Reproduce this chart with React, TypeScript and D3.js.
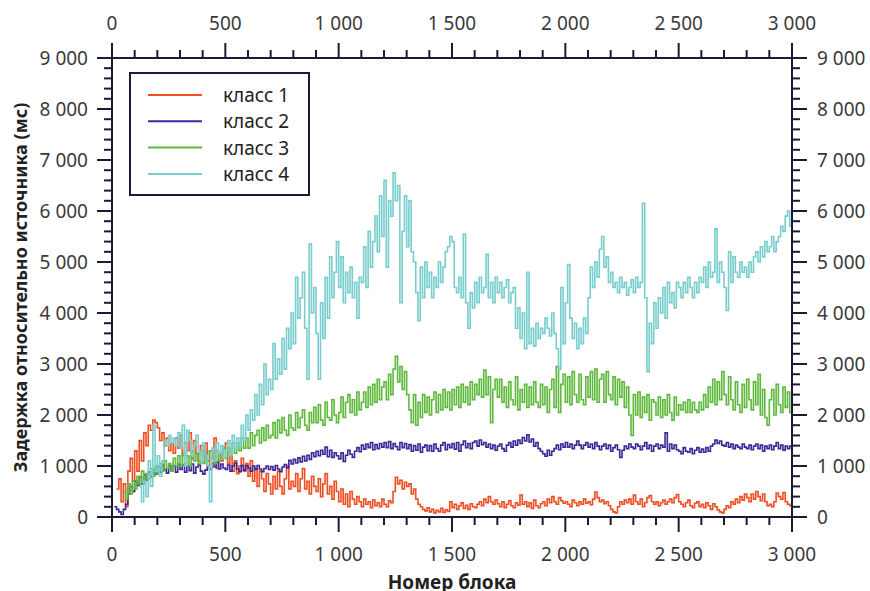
import React from "react";
import * as d3 from "d3";

// Block number step between samples
const X_STEP = 10;

const class1: (number | null)[] = [
  null, null, 550, 750, 300, 650, 200, 900, 1150, 700,
  1300, 900, 1500, 1100, 1650, 1400, 1800, 1700, 1900, 1850,
  1750, 1500, 1650, 1400, 1550, 1300, 1450, 1250, 1550, 1350,
  1600, 1200, 1450, 1300, 1650, 1150, 1500, 1250, 1100, 1400,
  1200, 1450, 1000, 1300, 1150, 1550, 950, 1250, 1100, 1350,
  1450, 1050, 1200, 900, 1100, 850, 1000, 1150, 900, 1050,
  800, 1100, 700, 950, 600, 900, 750, 500, 850, 650,
  450, 800, 550, 900, 600, 450, 750, 1000, 550, 700,
  600, 850, 500, 750, 950, 550, 700, 450, 800, 600,
  500, 750, 400, 650, 850, 450, 600, 350, 700, 500,
  300, 550, 250, 450, 200, 500, 350, 250, 400, 300,
  200, 350, 250, 300, 180, 330, 220, 280, 200, 350,
  250, 200, 320, 280, 500, 780, 650, 720, 550, 680,
  600, 650, 450, 550, 350, 250, 200, 150, 120, 180,
  100, 150, 80, 130, 100, 170, 90, 140, 110, 300,
  180, 250, 150, 220, 280, 170, 230, 150, 260, 200,
  180, 250, 300, 220, 350, 280, 400, 300, 250, 330,
  260, 200, 300, 180, 250, 320, 220, 180, 280, 230,
  430, 250, 300, 200, 280, 170, 330, 220, 180, 260,
  300, 220, 350, 280, 400, 300, 250, 380, 320, 270,
  300, 250, 200, 330, 280, 220, 300, 250, 350, 270,
  300, 240, 350, 490, 380, 300, 330, 260, 300, 220,
  150, 100, 80, 200, 300, 250, 330, 280, 350, 250,
  430, 300, 250, 350, 200, 280, 380, 420, 300, 250,
  300, 220, 280, 330, 250, 300, 350, 280, 380, 440,
  300, 250, 200, 280, 330, 220, 180, 270, 300, 200,
  250, 180, 280, 220, 150, 260, 200, 140, 100, 80,
  150, 220, 180, 300, 250, 350, 280, 400, 330, 450,
  380, 300, 450, 350, 500, 400, 320, 450, 300, 220,
  250, 200, 300, 470, 400, 350, 480, 300, 250, 220,
  250,
];

const class2: (number | null)[] = [
  null, 200, 150, 100, 50, 150, 250, 450, 600, 500,
  700, 620, 780, 650, 830, 720, 880, 790, 930, 840,
  980, 880, 1020, 930, 860, 1010, 900, 1000, 880, 1040,
  930, 1020, 880, 1000, 910, 1040, 860, 980, 1020, 900,
  840, 920, 990, 930, 1060, 980, 1080, 940, 1040, 960,
  930, 1020, 900, 1000, 1060, 940, 890, 1010, 920, 1010,
  960, 900, 1000, 930, 1010, 940, 890, 950, 1000, 930,
  990, 920, 1010, 940, 890, 980, 1030, 960, 1110, 1040,
  1130, 1060, 1160, 1080, 1190, 1100, 1210, 1130, 1260, 1180,
  1290, 1200, 1310, 1230, 1370, 1180, 1310, 1170, 1260, 1200,
  1140, 1260, 1090, 1210, 1310, 1230, 1170, 1290, 1360, 1280,
  1410, 1330, 1430, 1360, 1460, 1320, 1420, 1340, 1440, 1370,
  1460, 1360, 1480, 1340, 1440, 1380, 1320, 1460, 1360, 1440,
  1340, 1420, 1290, 1400, 1310, 1430, 1270, 1370, 1410, 1300,
  1400, 1290, 1430, 1340, 1290, 1410, 1460, 1320, 1420, 1360,
  1440, 1330, 1460, 1290, 1420, 1490, 1360, 1440, 1340, 1460,
  1490, 1390, 1510, 1420, 1460, 1370, 1430, 1340, 1410, 1310,
  1390, 1430, 1340, 1290, 1410, 1460, 1370, 1490, 1410, 1510,
  1440, 1560, 1490, 1610, 1470, 1530, 1390, 1460, 1340, 1290,
  1240, 1190, 1310, 1210, 1290, 1340, 1410, 1320, 1430, 1370,
  1460, 1370, 1430, 1340, 1410, 1490, 1410, 1340, 1410, 1460,
  1370, 1430, 1340, 1460, 1390, 1320, 1390, 1430, 1340, 1410,
  1290, 1360, 1410, 1320, 1170, 1310, 1390, 1340, 1430, 1370,
  1340, 1430, 1390, 1320, 1390, 1460, 1340, 1410, 1290, 1390,
  1430, 1340, 1410, 1370, 1650, 1290, 1430, 1340, 1410, 1320,
  1290, 1240, 1360, 1290, 1270, 1340, 1240, 1310, 1360, 1270,
  1330, 1270, 1360, 1290, 1390, 1430, 1510, 1440, 1490, 1410,
  1390, 1460, 1370, 1430, 1340, 1410, 1370, 1340, 1430, 1370,
  1340, 1410, 1320, 1390, 1430, 1340, 1410, 1290, 1390, 1340,
  1410, 1320, 1390, 1460, 1340, 1410, 1310, 1390, 1340, 1390,
  1350,
];

const class3: (number | null)[] = [
  null, null, null, null, null, 500, 350, 650, 450, 700,
  550, 800, 650, 900, 700, 850, 750, 950, 800, 1000,
  850, 1050, 900, 1100, 950, 1050, 900, 1150, 1000, 1200,
  1000, 1250, 1050, 1200, 1000, 1300, 1100, 1250, 1050, 1300,
  1050, 1250, 1100, 1300, 1150, 1050, 1300, 1100, 1250, 1350,
  1150, 1350, 1200, 1450, 1250, 1450, 1300, 1550, 1350, 1550,
  1350, 1650, 1400, 1600, 1700, 1450, 1750, 1500, 1800, 1550,
  1600, 1850, 1550, 1900, 1650, 1950, 1700, 1600, 2000, 1750,
  1700, 2050, 1750, 1950, 2100, 1800, 1700, 2050, 1850, 2150,
  1850, 2200, 1900, 1800, 2250, 1950, 1900, 2300, 2000, 1850,
  2050, 2350, 1950, 2250, 2400, 2050, 2300, 2000, 2450, 2100,
  2250, 2450, 2150, 2550, 2200, 2600, 2250, 2700, 2300, 2550,
  2650, 2300, 2800, 2400, 2900, 3150, 2650, 2950, 2500, 2850,
  2400, 2100, 1850, 2400, 1800, 2250, 1950, 2400, 2050, 2350,
  2000, 2300, 2450, 2050, 2400, 2100, 2500, 2150, 2450, 2100,
  2500, 2200, 2550, 2150, 2600, 2250, 2550, 2200, 2650, 2300,
  2600, 2400, 2700, 2350, 2880, 2400, 2750, 1850, 2500, 2700,
  2350, 2700, 2250, 2550, 2150, 2650, 2300, 2200, 2750, 2100,
  2500, 2250, 2600, 2150, 2550, 2200, 2650, 2250, 2150, 2600,
  2200, 2550, 2050, 2500, 2700, 2150, 2950, 2050, 2600, 2800,
  2250, 2750, 2200, 2850, 2400, 2250, 2800, 2300, 2200, 2750,
  2350, 2850, 2300, 2900, 2250, 2700, 2800, 2250, 2850, 2400,
  2300, 2750, 2200, 2700, 2350, 2650, 2150, 2550, 2000, 1600,
  2400, 2000, 2450, 1950, 2350, 2050, 2400, 1900, 2300, 2250,
  2000, 2350, 1950, 2300, 2000, 2400, 2050, 1900, 2350, 2000,
  2200, 2100, 2250, 2050, 2300, 2050, 2250, 2100, 2050, 2250,
  2100, 2400, 2150, 2550, 2250, 2700, 2200, 2650, 2300, 2850,
  2400, 2200, 2750, 2300, 2100, 2650, 2200, 2050, 2600, 2150,
  2700, 2300, 2100, 2650, 2200, 2800, 2000, 2500, 1950, 1800,
  2300, 2500, 2000, 2600, 2200, 2050, 2550, 2150, 2450, 2050,
  2250,
];

const class4: (number | null)[] = [
  null, null, null, null, null, null, null, null, null, null,
  null, null, 600, 300, 700, 400, 1100, 600, 1800, 900,
  1200, 800, 1100, 1500, 1400, 1600, 1450, 1550, 1400, 1650,
  1350, 1800, 1000, 1700, 1500, 1200, 1400, 1600, 1300, 1100,
  1450, 1200, 1000, 300, 1350, 1100, 1450, 1250, 1400, 1150,
  1300, 1500, 1200, 1600, 1350, 1550, 1400, 1800, 1500, 2000,
  1700, 2100, 1900, 2400, 2000, 2600, 2200, 3000, 2400, 2700,
  2500, 3400, 2700, 3100, 2800, 3500, 2900, 3700, 3300, 4000,
  3400, 4700, 3900, 4300, 4800, 3700, 2700, 5350, 4000, 4500,
  3600, 2700, 4200, 3500, 4700, 3900, 5100, 4300, 4800, 5400,
  4500, 5100, 4200, 4800, 4400, 4900, 4300, 4600, 3900, 4700,
  4600, 5300, 4500, 5600, 4900, 5400, 5900, 5200, 6300, 5500,
  6600, 4900, 6200, 5900, 6750, 6200, 6500, 4200, 5600, 6300,
  5300, 6200, 5200, 5000, 4400, 3850, 4900, 4300, 5000, 4500,
  4800, 4300, 4700, 4500, 5000, 4600, 4900, 5200, 5300, 5500,
  5400, 4500, 4400, 4700, 4300, 5550, 4200, 3700, 4400, 4100,
  4600, 4200, 4700, 4400, 4500, 5150, 4300, 4600, 4200, 4700,
  4400, 4600, 4300, 4500, 4650, 4200, 4400, 4500, 3700, 4100,
  3500, 4000, 3300, 4800, 3400, 3700, 3350, 3800, 3500, 3700,
  3600, 3900, 3700, 3550, 4000, 3600, 3300, 2900, 4500, 3400,
  4200, 4950, 3900, 3500, 3800, 3300, 3700, 3400, 3900, 3600,
  4300, 4900, 4500, 5000, 4700, 5250, 5500, 4900, 5100, 4600,
  4800, 4500, 4600, 4400, 4700, 4500, 4600, 4350, 4500, 4650,
  4400, 4700, 4500, 4600, 6150, 4300, 2850, 3800, 3400, 4200,
  3700, 4300, 4000, 4500, 3900, 4600, 4200, 4400, 4100, 4600,
  4500, 4300, 4600, 4400, 4700, 4500, 4300, 4600, 4400, 4700,
  4600, 4900, 4500, 5000, 4700, 4800, 5650, 4600, 5000, 4800,
  4500, 4050, 5200, 4600, 5100, 4800, 4700, 5000, 4800, 4900,
  4700, 5000, 4800, 5100, 5200, 5000, 5300, 5100, 5400, 5200,
  5300, 5500, 5200, 5400, 5500, 5700, 5600, 5900, 6000, 5700,
  5800,
];

const seriesNames = ["класс 1", "класс 2", "класс 3", "класс 4"];
const seriesValues = [class1, class2, class3, class4];
const seriesColors = ["#f04e23", "#3c2896", "#5fb93c", "#78cdcd"];

const xMajorTicks = [0, 500, 1000, 1500, 2000, 2500, 3000];
const yMajorTicks = [0, 1000, 2000, 3000, 4000, 5000, 6000, 7000, 8000, 9000];

const xTitle = "Номер блока";
const yTitle = "Задержка относительно источника (мс)";

const W = 870;
const H = 591;
const M = { left: 112, right: 792, top: 58, bottom: 517 };
const AXIS = "#1c1a3a";
const LABEL = "#3a3a3a";
const FONT = "'Noto Sans', 'Open Sans', sans-serif";

const fmt = (v: number) => d3.format(",")(v).replace(/,/g, " ");

export default function App() {
  const x = d3.scaleLinear().domain([0, 3000]).range([M.left, M.right]);
  const y = d3.scaleLinear().domain([0, 9000]).range([M.bottom, M.top]);

  const xMinor = d3.range(0, 3001, 100).filter((v) => v % 500 !== 0);
  const yMinor = d3.range(0, 9001, 200).filter((v) => v % 1000 !== 0);

  const line = d3
    .line<number | null>()
    .defined((d) => d !== null)
    .x((_, i) => x(i * X_STEP))
    .y((d) => y(d as number))
    .curve(d3.curveStepAfter);

  const majLen = 15;
  const minLen = 8;

  return (
    <svg
      width={W}
      height={H}
      style={{ position: "absolute", left: 0, top: 0, background: "#fff" }}
      fontFamily={FONT}
    >
      <rect x={0} y={0} width={W} height={H} fill="#fff" />
      <g>
        {seriesValues.map((vals, i) => (
          <path
            key={i}
            d={line(vals) || ""}
            fill="none"
            stroke={seriesColors[i]}
            strokeWidth={1.6}
          />
        ))}
      </g>

      <rect
        x={M.left}
        y={M.top}
        width={M.right - M.left}
        height={M.bottom - M.top}
        fill="none"
        stroke={AXIS}
        strokeWidth={2}
      />

      {xMajorTicks.map((t) => (
        <g key={"xm" + t}>
          <line x1={x(t)} x2={x(t)} y1={M.bottom} y2={M.bottom + majLen} stroke={AXIS} strokeWidth={2} />
          <line x1={x(t)} x2={x(t)} y1={M.top} y2={M.top - majLen} stroke={AXIS} strokeWidth={2} />
          <text x={x(t)} y={554} textAnchor="middle" dominantBaseline="central" fontSize={19} fill={LABEL}>
            {fmt(t)}
          </text>
          <text x={x(t)} y={23} textAnchor="middle" dominantBaseline="central" fontSize={19} fill={LABEL}>
            {fmt(t)}
          </text>
        </g>
      ))}
      {xMinor.map((t) => (
        <g key={"xn" + t}>
          <line x1={x(t)} x2={x(t)} y1={M.bottom} y2={M.bottom + minLen} stroke={AXIS} strokeWidth={2} />
          <line x1={x(t)} x2={x(t)} y1={M.top} y2={M.top - minLen} stroke={AXIS} strokeWidth={2} />
        </g>
      ))}

      {yMajorTicks.map((t) => (
        <g key={"ym" + t}>
          <line x1={M.left} x2={M.left - majLen} y1={y(t)} y2={y(t)} stroke={AXIS} strokeWidth={2} />
          <line x1={M.right} x2={M.right + majLen} y1={y(t)} y2={y(t)} stroke={AXIS} strokeWidth={2} />
          <text x={88} y={y(t)} textAnchor="end" dominantBaseline="central" fontSize={19} fill={LABEL}>
            {fmt(t)}
          </text>
          <text x={817} y={y(t)} textAnchor="start" dominantBaseline="central" fontSize={19} fill={LABEL}>
            {fmt(t)}
          </text>
        </g>
      ))}
      {yMinor.map((t) => (
        <g key={"yn" + t}>
          <line x1={M.left} x2={M.left - minLen} y1={y(t)} y2={y(t)} stroke={AXIS} strokeWidth={2} />
          <line x1={M.right} x2={M.right + minLen} y1={y(t)} y2={y(t)} stroke={AXIS} strokeWidth={2} />
        </g>
      ))}

      <text
        x={(M.left + M.right) / 2}
        y={589}
        textAnchor="middle"
        fontSize={19}
        fontWeight="bold"
        fill="#222"
      >
        {xTitle}
      </text>
      <text
        transform={`translate(20, ${(M.top + M.bottom) / 2}) rotate(-90)`}
        textAnchor="middle"
        dominantBaseline="central"
        fontSize={18}
        fontWeight="bold"
        fill="#222"
      >
        {yTitle}
      </text>

      <g>
        <rect x={130} y={73} width={179} height={122} fill="#fff" stroke={AXIS} strokeWidth={2} />
        {seriesNames.map((name, i) => {
          const ly = 95 + i * 26.3;
          return (
            <g key={name}>
              <line x1={148} x2={202} y1={ly} y2={ly} stroke={seriesColors[i]} strokeWidth={2} />
              <text x={223} y={ly} dominantBaseline="central" fontSize={19} fill="#222">
                {name}
              </text>
            </g>
          );
        })}
      </g>
    </svg>
  );
}
